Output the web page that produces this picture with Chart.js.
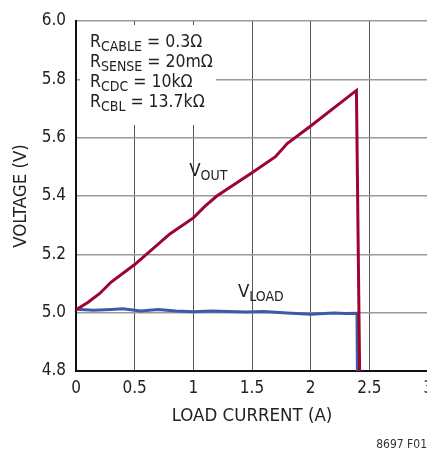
<!DOCTYPE html>
<html>
<head>
<meta charset="utf-8">
<script src="https://cdn.jsdelivr.net/npm/chart.js@4"></script>
<style>
    html, body { margin: 0; padding: 0; background: #fff; overflow: hidden; }
    #wrap { position: absolute; left: 0; top: 0; width: 445px; height: 452px; }
</style>
</head>
<body>
<div id="wrap"><canvas id="chart" width="445" height="452"></canvas></div>
<script>
// ==========================================
// DATA
// ==========================================
const voutX = [0, 0.1, 0.2, 0.3, 0.5, 0.8, 1.0, 1.1, 1.2, 1.5, 1.7, 1.8, 2.0, 2.39, 2.42];
const voutY = [5.01, 5.035, 5.065, 5.105, 5.165, 5.27, 5.325, 5.365, 5.40, 5.48, 5.535, 5.58, 5.64, 5.762, 4.7];

const vloadX = [0, 0.15, 0.3, 0.4, 0.55, 0.7, 0.85, 1.0, 1.15, 1.3, 1.45, 1.6, 1.8, 2.0, 2.2, 2.3, 2.395, 2.40];
const vloadY = [5.012, 5.008, 5.011, 5.013, 5.006, 5.011, 5.006, 5.003, 5.006, 5.004, 5.002, 5.004, 4.999, 4.995, 4.999, 4.997, 4.998, 4.7];

const xTicks = [0, 0.5, 1, 1.5, 2, 2.5, 3];
const yTicks = [4.8, 5.0, 5.2, 5.4, 5.6, 5.8, 6.0];

const conditions = [
    ['R', 'CABLE', ' = 0.3\u03A9'],
    ['R', 'SENSE', ' = 20m\u03A9'],
    ['R', 'CDC', ' = 10k\u03A9'],
    ['R', 'CBL', ' = 13.7k\u03A9']
];

const FONT = '"Liberation Sans Narrow", "DejaVu Sans Condensed", Arial, sans-serif';
const RED = '#9c0530';
const BLUE = '#3d5aa8';

function toPoints(xs, ys) {
    return xs.map((x, i) => ({ x: x, y: ys[i] }));
}

// text with a subscript part, e.g. V_OUT
function drawSub(ctx, x, y, main, sub, rest, size) {
    ctx.font = size + 'px ' + FONT;
    ctx.fillText(main, x, y);
    x += ctx.measureText(main).width;
    const subSize = Math.round(size * 0.78);
    ctx.font = subSize + 'px ' + FONT;
    ctx.fillText(sub, x, y + 4);
    x += ctx.measureText(sub).width;
    if (rest) {
        ctx.font = size + 'px ' + FONT;
        ctx.fillText(rest, x, y);
    }
}

const labelsPlugin = {
    id: 'labels',
    beforeDatasetsDraw(chart) {
        const ctx = chart.ctx;
        const area = chart.chartArea;
        ctx.save();
        // white panel behind the conditions text
        ctx.fillStyle = '#fff';
        ctx.fillRect(area.left + 4, area.top + 4, 136, 100);
        ctx.fillStyle = '#222';
        ctx.textBaseline = 'alphabetic';
        conditions.forEach((c, i) => {
            drawSub(ctx, area.left + 14, area.top + 26 + i * 20, c[0], c[1], c[2], 17.5);
        });
        ctx.restore();
    },
    afterDatasetsDraw(chart) {
        const ctx = chart.ctx;
        const xs = chart.scales.x;
        const ys = chart.scales.y;
        ctx.save();
        ctx.fillStyle = '#222';
        ctx.textBaseline = 'alphabetic';
        drawSub(ctx, xs.getPixelForValue(0.965), ys.getPixelForValue(5.47), 'V', 'OUT', '', 18.5);
        drawSub(ctx, xs.getPixelForValue(1.38), ys.getPixelForValue(5.055), 'V', 'LOAD', '', 18.5);
        // figure number
        ctx.font = '12px ' + FONT;
        ctx.textAlign = 'right';
        ctx.fillStyle = '#333';
        ctx.fillText('8697 F01', 427, 448);
        ctx.restore();
    }
};

new Chart(document.getElementById('chart'), {
    type: 'scatter',
    data: {
        datasets: [
            {
                label: 'VOUT',
                data: toPoints(voutX, voutY),
                showLine: true,
                borderColor: RED,
                borderWidth: 3,
                pointRadius: 0,
                tension: 0
            },
            {
                label: 'VLOAD',
                data: toPoints(vloadX, vloadY),
                showLine: true,
                borderColor: BLUE,
                borderWidth: 3,
                pointRadius: 0,
                tension: 0
            }
        ]
    },
    options: {
        responsive: false,
        animation: false,
        layout: { padding: { top: 21, right: 17, bottom: 0, left: 0 } },
        plugins: {
            legend: { display: false },
            tooltip: { enabled: false }
        },
        scales: {
            x: {
                type: 'linear',
                min: 0,
                max: 3,
                afterFit: scale => { scale.height = 81; },
                afterBuildTicks: scale => { scale.ticks = xTicks.map(v => ({ value: v })); },
                grid: { color: '#555', lineWidth: 1, drawTicks: false },
                border: { color: '#111', width: 2 },
                ticks: {
                    color: '#222',
                    padding: 7,
                    font: { family: FONT, size: 17 },
                    callback: v => String(v)
                },
                title: {
                    display: true,
                    text: 'LOAD CURRENT (A)',
                    color: '#222',
                    font: { family: FONT, size: 18.5 },
                    padding: { top: 4, bottom: 25 }
                }
            },
            y: {
                min: 4.8,
                max: 6.0,
                afterFit: scale => { scale.width = 76; },
                afterBuildTicks: scale => { scale.ticks = yTicks.map(v => ({ value: v })); },
                grid: { color: '#999', lineWidth: 1.5, drawTicks: false },
                border: { color: '#111', width: 2 },
                ticks: {
                    color: '#222',
                    padding: 10,
                    font: { family: FONT, size: 17 },
                    callback: v => v.toFixed(1)
                },
                title: {
                    display: true,
                    text: 'VOLTAGE (V)',
                    color: '#222',
                    font: { family: FONT, size: 18.5 },
                    padding: { top: 10, bottom: 0 }
                }
            }
        }
    },
    plugins: [labelsPlugin]
});
</script>
</body>
</html>
